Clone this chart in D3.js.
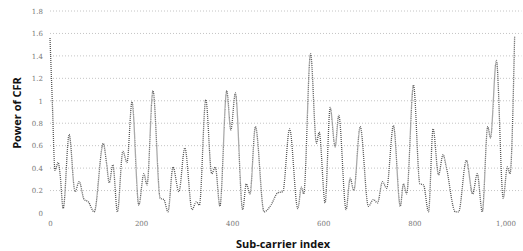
<!DOCTYPE html>
<html>
<head>
<meta charset="utf-8">
<script src="https://cdn.jsdelivr.net/npm/d3@7"></script>
<style>
    body { margin: 0; background: #fff; }
</style>
</head>
<body>
<div id="cfr_chart"></div>
<script>
// sub-carrier index and CFR power
var subCarrier = [0, 5, 11, 18, 22, 29, 42, 55, 64, 75, 84, 97, 117, 124, 130, 138, 148, 160, 169, 180,
    195, 206, 213, 226, 242, 250, 259, 270, 283, 296, 312, 321, 328, 342, 355, 363, 373, 388, 397, 407,
    423, 431, 439, 451, 470, 485, 500, 511, 526, 544, 552, 557, 572, 585, 591, 604, 615, 626, 634, 650,
    659, 667, 681, 699, 710, 719, 730, 739, 754, 769, 776, 783, 798, 812, 820, 831, 841, 853, 863, 870,
    890, 897, 914, 928, 938, 949, 961, 967, 980, 995, 1004, 1010, 1020];
var power = [1.56, 1.0, 0.38, 0.45, 0.35, 0.04, 0.70, 0.19, 0.28, 0.12, 0.10, 0.01, 0.62, 0.45, 0.27, 0.43, 0.01, 0.55, 0.45, 0.99,
    0.07, 0.35, 0.25, 1.09, 0.13, 0.12, 0.01, 0.41, 0.19, 0.58, 0.03, 0.10, 0.07, 1.01, 0.35, 0.41, 0.06, 1.09, 0.74, 1.07,
    0.03, 0.26, 0.17, 0.77, 0.01, 0.07, 0.18, 0.19, 0.75, 0.04, 0.23, 0.17, 1.42, 0.62, 0.72, 0.09, 0.94, 0.59, 0.87, 0.03,
    0.31, 0.20, 0.77, 0.06, 0.12, 0.09, 0.28, 0.22, 0.78, 0.06, 0.26, 0.17, 1.14, 0.26, 0.25, 0.01, 0.75, 0.34, 0.52, 0.41,
    0.01, 0.01, 0.47, 0.17, 0.35, 0.01, 0.77, 0.67, 1.36, 0.13, 0.41, 0.35, 1.57];
var xTicks = [0, 200, 400, 600, 800, 1000];
var yTicks = [0, 0.2, 0.4, 0.6, 0.8, 1, 1.2, 1.4, 1.6, 1.8];

var width = 523, height = 251;

var svg = d3.select("#cfr_chart").append("svg")
    .attr("width", width)
    .attr("height", height);

var x = d3.scaleLinear().domain([0, 1000]).range([50, 505.5]);
var y = d3.scaleLinear().domain([0, 1.8]).range([213, 11]);

// dotted grid, none at zero
yTicks.forEach(function (t) {
    if (t === 0) return;
    svg.append("line")
        .attr("x1", x(0))
        .attr("x2", x(1035))
        .attr("y1", y(t))
        .attr("y2", y(t))
        .attr("stroke", "#b5b5b5")
        .attr("stroke-width", 0.8)
        .attr("stroke-dasharray", "1,2");
});

var yAxis = d3.axisLeft(y).tickValues(yTicks).tickSize(0).tickPadding(0)
    .tickFormat(function (d) { return d3.format("~g")(d); });
var gy = svg.append("g").attr("transform", "translate(43,0)").call(yAxis);
gy.select(".domain").remove();

var xAxis = d3.axisBottom(x).tickValues(xTicks).tickSize(0).tickPadding(0);
var gx = svg.append("g").attr("transform", "translate(0,221)").call(xAxis);
gx.select(".domain").remove();

svg.selectAll(".tick text")
    .attr("font-family", "DejaVu Serif, serif")
    .attr("font-size", "7px")
    .attr("fill", "#777");

var line = d3.line()
    .x(function (d) { return x(d[0]); })
    .y(function (d) { return y(d[1]); })
    .curve(d3.curveMonotoneX);

var points = subCarrier.map(function (s, i) { return [s, power[i]]; });

svg.append("path")
    .datum(points)
    .attr("d", line)
    .attr("fill", "none")
    .attr("stroke", "#555")
    .attr("stroke-width", 1.3)
    .attr("stroke-dasharray", "1,1");

svg.append("text")
    .attr("transform", "translate(21,113) rotate(-90)")
    .attr("text-anchor", "middle")
    .attr("font-family", "Open Sans, sans-serif")
    .attr("font-weight", "bold")
    .attr("font-size", "11px")
    .attr("fill", "#111")
    .text("Power of CFR");

svg.append("text")
    .attr("x", 283)
    .attr("y", 248)
    .attr("text-anchor", "middle")
    .attr("font-family", "Open Sans, sans-serif")
    .attr("font-weight", "bold")
    .attr("font-size", "11px")
    .attr("fill", "#111")
    .text("Sub-carrier index");
</script>
</body>
</html>
